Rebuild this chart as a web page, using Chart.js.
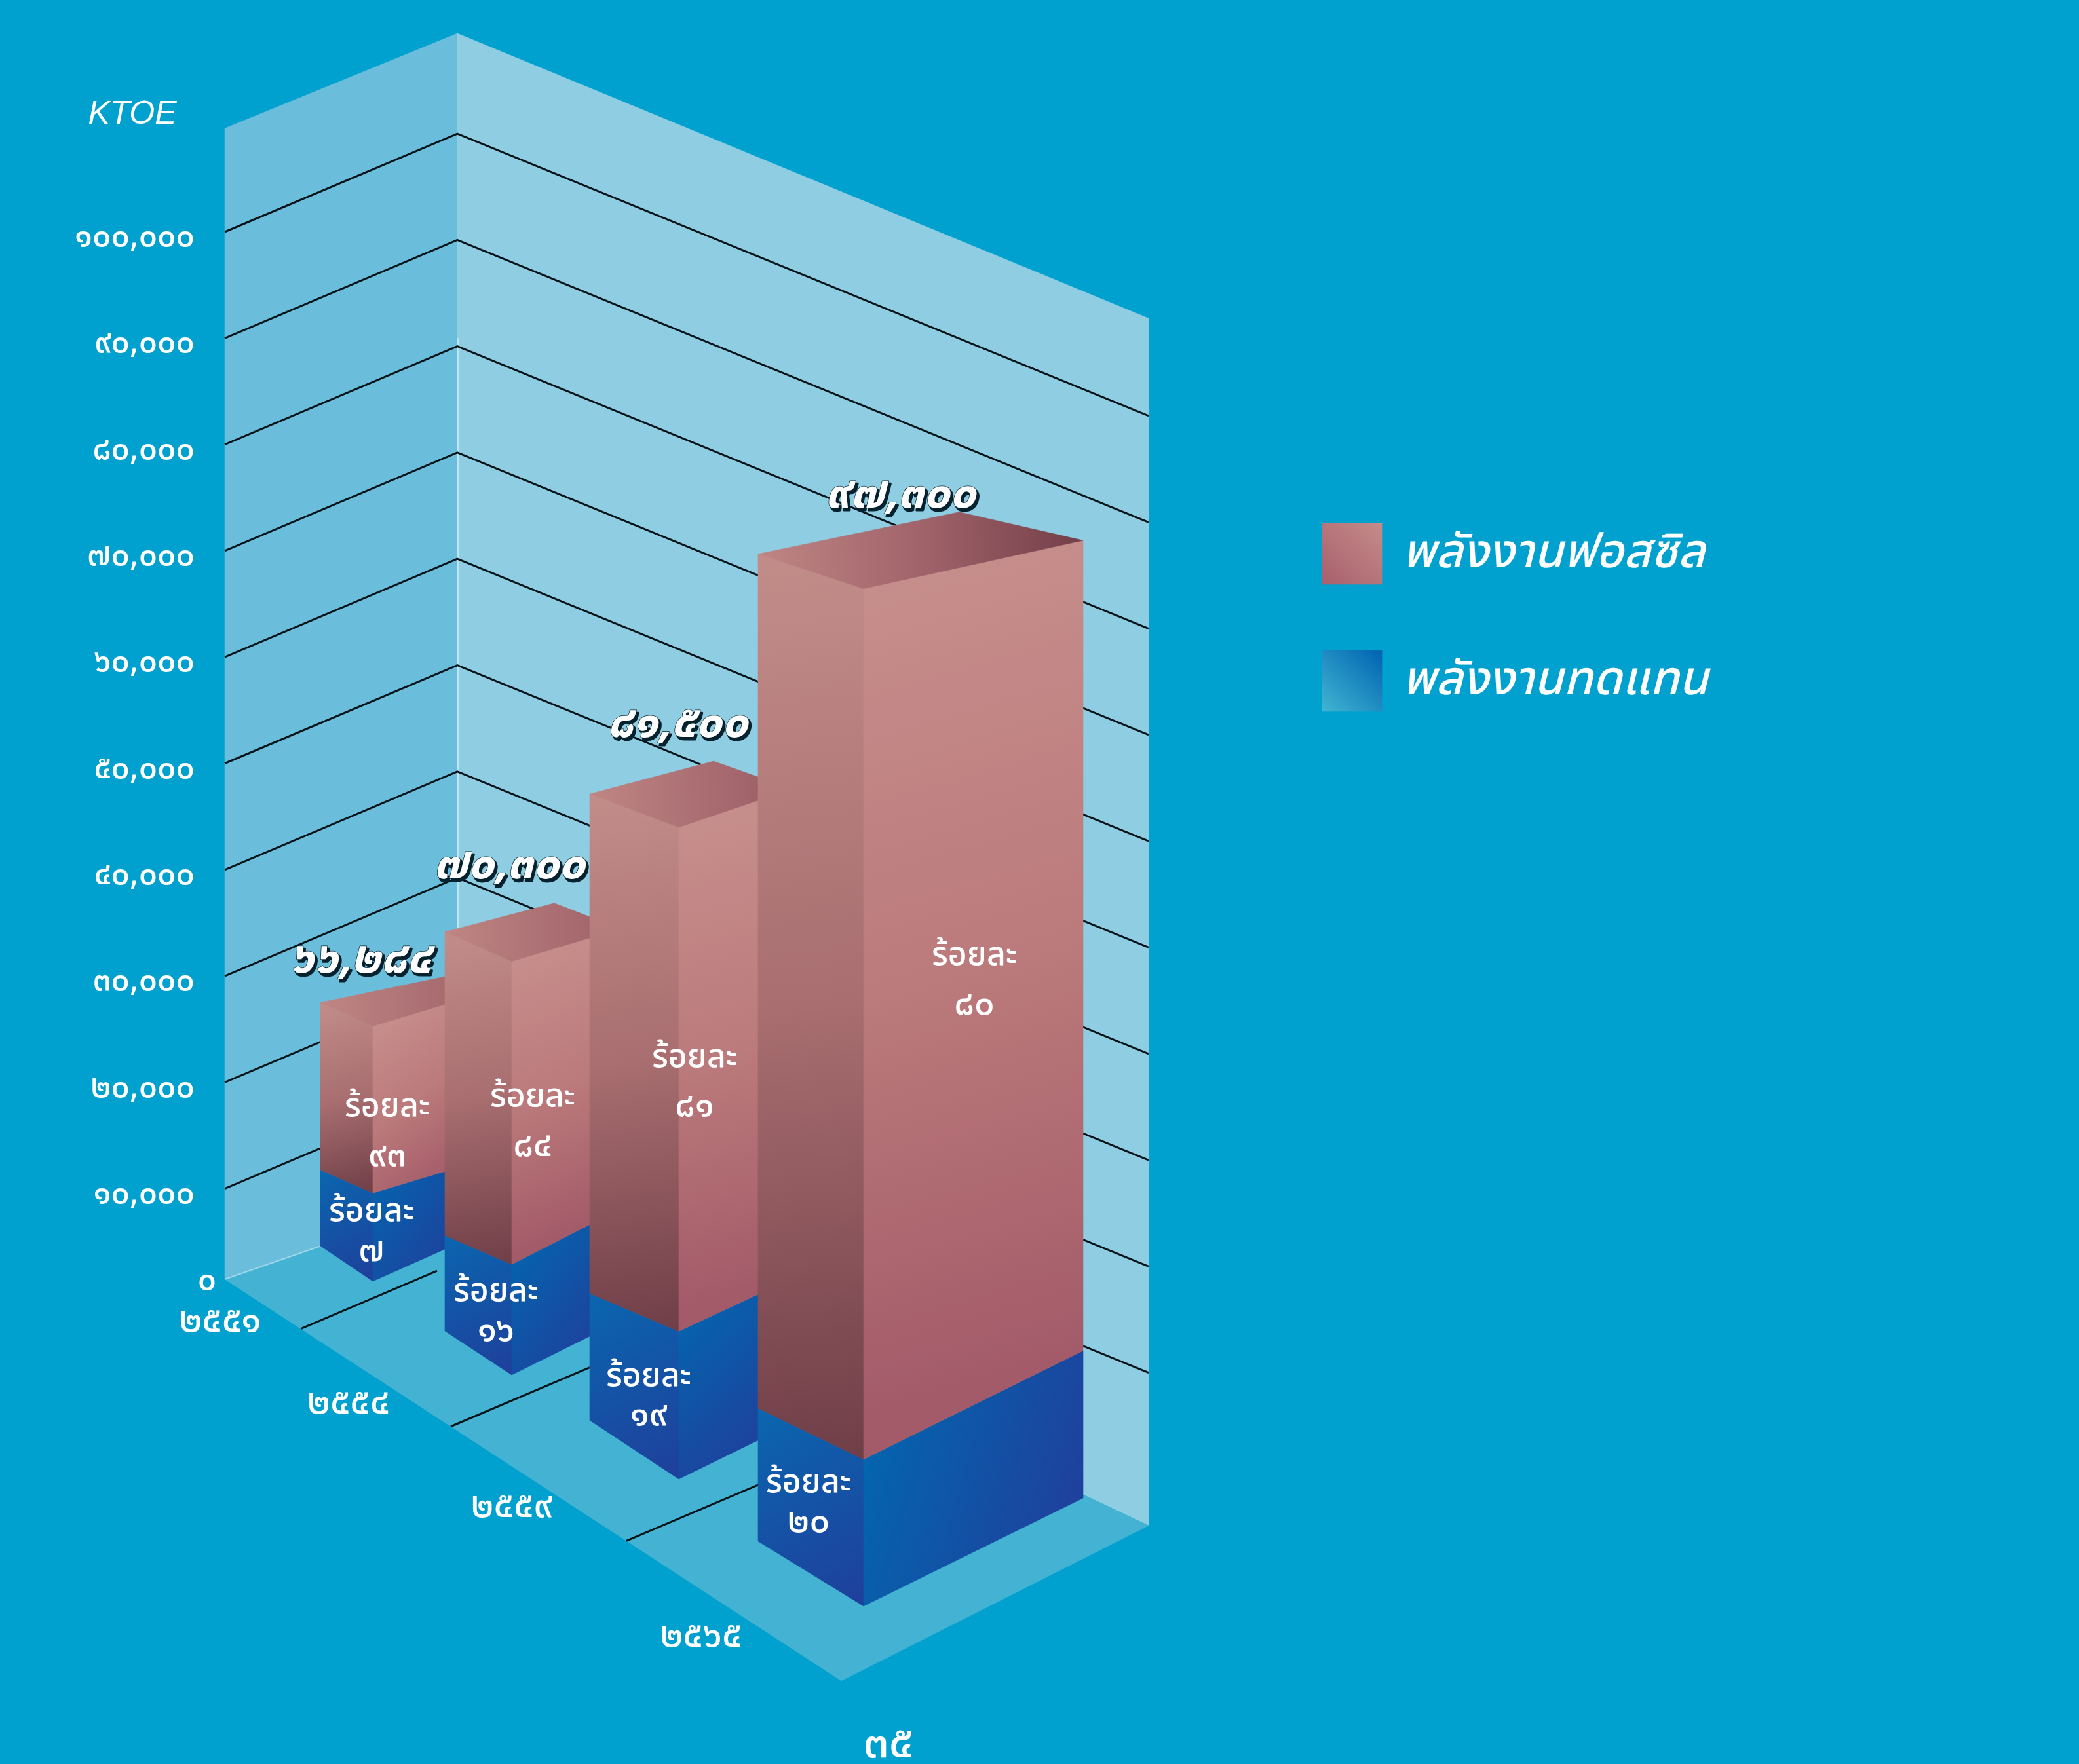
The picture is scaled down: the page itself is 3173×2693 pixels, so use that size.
<!DOCTYPE html>
<html lang="th">
<head>
<meta charset="utf-8">
<style>html,body{margin:0;padding:0;background:#00A0CF}canvas{display:block}</style>
<script src="https://cdn.jsdelivr.net/npm/chart.js@4"></script>
</head>
<body>
<canvas id="c" width="3173" height="2693"></canvas>
<script>
// ---- data ----
const years = ['๒๕๕๑', '๒๕๕๔', '๒๕๕๙', '๒๕๖๕'];
// Bar heights measured against the wall gridlines. The artwork's drawn heights
// do not follow its printed totals, so the printed totals are kept as labels.
const renewableValues = [8300, 10400, 13900, 13800];
const fossilValues = [15700, 28500, 47400, 81900];
const totalLabels = ['๖๖,๒๘๔', '๗๐,๓๐๐', '๘๑,๕๐๐', '๙๗,๓๐๐'];
const renewablePercent = ['๗', '๑๖', '๑๙', '๒๐'];
const fossilPercent = ['๙๓', '๘๔', '๘๑', '๘๐'];
const seriesNames = ['พลังงานทดแทน', 'พลังงานฟอสซิล'];
const percentWord = 'ร้อยละ';
const axisUnit = 'KTOE';
const pageNumber = '๓๕';

// ---- view / layout (separate from the data) ----
const THAI = '"Noto Sans Thai","Noto Sans","Open Sans","DejaVu Sans",sans-serif';
const view = {
  wallLeft: 343, wallCorner: 698, wallRight: 1753,
  riseLeft: 0.4225, fallRight: 0.4085,
  wallTopLeft: 196, wallTopCorner: 51, wallTopRight: 486,
  floorLeft: 1953, floorBack: 1830, floorRight: 2329, floorFrontX: 1284, floorFrontY: 2566
};
const shiftX = [101, 63, 68, 100];
const shiftY = [-21, 122, 281, 475];
const leftDx = [80, 102, 136, 161];
const rightDx = [150, 166, 173, 335];
const leftSlope = [[.675, .44, .45], [.657, .43, .44], [.66, .426, .375], [.615, .484, .33]];
const rightSlope = [[-.445, -.30, -.30], [-.496, -.51, -.30], [-.49, -.467, -.339], [-.4925, -.4955, -.22]];
const backOffset = [[240, -50], [167, -44], [189, -50], [307, -64]];
const totalOffset = [[-19, -96], [-4, -141], [-2, -152], [56, -138]];
const fossilTextOffset = [[22, -127], [32, -251], [24, -414], [169, -765]];
const renewTextOffset = [[-2, 33], [-24, 46], [-46, 73], [-84, 40]];
const yearOffset = [[-233, 66], [-249, 48], [-255, 47], [-248, 51]];
const floorTickRange = [[459, 667], [688, 900], [956, 1160]];

function thaiDigits(s) { return String(s).replace(/[0-9]/g, d => '๐๑๒๓๔๕๖๗๘๙'[+d]); }
function poly(ctx, pts, fill) {
  ctx.beginPath();
  pts.forEach((p, i) => i ? ctx.lineTo(p[0], p[1]) : ctx.moveTo(p[0], p[1]));
  ctx.closePath(); ctx.fillStyle = fill; ctx.fill();
  ctx.strokeStyle = fill; ctx.lineWidth = 0.6; ctx.stroke();
}
function grad(ctx, a, b, stops) {
  const g = ctx.createLinearGradient(a[0], a[1], b[0], b[1]);
  stops.forEach((c, i) => g.addColorStop(i / (stops.length - 1), c));
  return g;
}
function wallShear(x) {
  return x <= view.wallCorner ? -(x - view.wallLeft) * view.riseLeft
    : -(view.wallCorner - view.wallLeft) * view.riseLeft + (x - view.wallCorner) * view.fallRight;
}
function text(ctx, s, x, y, font, opts = {}) {
  ctx.save();
  ctx.font = font; ctx.textAlign = opts.align || 'center'; ctx.textBaseline = 'middle';
  if (opts.outline) {
    ctx.lineJoin = 'round'; ctx.strokeStyle = '#05222e'; ctx.fillStyle = '#05222e'; ctx.lineWidth = 3;
    ctx.strokeText(s, x + 3, y + 4); ctx.fillText(s, x + 3, y + 4);
    ctx.lineWidth = 1.5; ctx.strokeStyle = '#05222e'; ctx.strokeText(s, x, y);
  }
  ctx.fillStyle = '#ffffff'; ctx.fillText(s, x, y);
  ctx.restore();
}

const scene = {
  id: 'scene',
  beforeDatasetDraw() { return false; },
  beforeDatasetsDraw(chart) {
    const { ctx, scales: { y } } = chart, v = view;
    poly(ctx, [[v.wallLeft, v.wallTopLeft], [v.wallCorner, v.wallTopCorner], [v.wallCorner, v.floorBack], [v.wallLeft, v.floorLeft]], '#6BBEDB');
    poly(ctx, [[v.wallCorner, v.wallTopCorner], [v.wallRight, v.wallTopRight], [v.wallRight, v.floorRight], [v.wallCorner, v.floorBack]], '#8FCDE3');
    poly(ctx, [[v.wallLeft, v.floorLeft], [v.wallCorner, v.floorBack], [v.wallRight, v.floorRight], [v.floorFrontX, v.floorFrontY]], '#43B2D3');
    ctx.strokeStyle = 'rgba(255,255,255,.45)'; ctx.lineWidth = 2;
    ctx.beginPath(); ctx.moveTo(v.wallCorner + 1, y.getPixelForValue(90000)); ctx.lineTo(v.wallCorner + 1, y.getPixelForValue(20000));
    ctx.moveTo(v.wallLeft, v.floorLeft); ctx.lineTo(v.wallCorner, v.floorBack); ctx.stroke();
    ctx.strokeStyle = '#06141a'; ctx.lineWidth = 3;
    y.ticks.forEach(t => {
      if (!t.value) return;
      const p = y.getPixelForValue(t.value);
      ctx.beginPath();
      ctx.moveTo(v.wallLeft, p);
      ctx.lineTo(v.wallCorner, p + wallShear(v.wallCorner));
      ctx.lineTo(v.wallRight, p + wallShear(v.wallRight));
      ctx.stroke();
    });
  },
  afterDatasetsDraw(chart) {
    const { ctx } = chart;
    const renew = chart.getDatasetMeta(0).data, fossil = chart.getDatasetMeta(1).data;
    years.forEach((yr, i) => {
      const fx = renew[i].x + shiftX[i], dy = shiftY[i];
      const levels = [renew[i].base + dy, renew[i].y + dy, fossil[i].y + dy];
      const F = levels.map(l => [fx, l]);
      const L = levels.map((l, k) => [fx - leftDx[i], l - leftSlope[i][k] * leftDx[i]]);
      const R = levels.map((l, k) => [fx + rightDx[i], l + rightSlope[i][k] * rightDx[i]]);
      const back = [L[2][0] + backOffset[i][0], L[2][1] + backOffset[i][1]];
      // side faces
      poly(ctx, [L[1], F[1], F[0], L[0]], grad(ctx, L[1], F[0], ['#0A66AF', '#1F3F9B']));
      poly(ctx, [F[1], R[1], R[0], F[0]], grad(ctx, [F[1][0], F[1][1] - 40], R[0], ['#0366AF', '#1F409C']));
      poly(ctx, [L[2], F[2], F[1], L[1]], grad(ctx, L[2], [F[1][0], F[1][1]], ['#C28D89', '#A86E70', '#6F3E47']));
      poly(ctx, [F[2], R[2], R[1], F[1]], grad(ctx, [F[2][0], F[2][1]], R[1], ['#C68E8B', '#BB7A7B', '#A35B69']));
      // the top shades over a fixed run, so short bars do not reach the darkest tone
      const run = Math.hypot(R[2][0] - L[2][0], R[2][1] - L[2][1]);
      const topEnd = [L[2][0] + (R[2][0] - L[2][0]) * 500 / run, L[2][1] + (R[2][1] - L[2][1]) * 500 / run];
      poly(ctx, [L[2], back, R[2], F[2]], grad(ctx, L[2], topEnd, ['#BF8684', '#A0636A', '#733E48']));
      // floor division in front of this bar
      if (floorTickRange[i]) {
        const [x0, x1] = floorTickRange[i];
        const y0 = view.floorLeft + (x0 - view.wallLeft) * (view.floorFrontY - view.floorLeft) / (view.floorFrontX - view.wallLeft);
        ctx.strokeStyle = '#06141a'; ctx.lineWidth = 3;
        ctx.beginPath(); ctx.moveTo(x0, y0); ctx.lineTo(x1, y0 - (x1 - x0) * 0.425); ctx.stroke();
      }
    });
    // texts above all faces
    const pf = '500 50px ' + THAI, nf = '500 54px ' + THAI;
    years.forEach((yr, i) => {
      const fx = renew[i].x + shiftX[i], dy = shiftY[i];
      const bY = renew[i].y + dy, tY = fossil[i].y + dy, gY = renew[i].base + dy;
      text(ctx, percentWord, fx + fossilTextOffset[i][0], bY + fossilTextOffset[i][1], pf);
      text(ctx, fossilPercent[i], fx + fossilTextOffset[i][0], bY + fossilTextOffset[i][1] + 75, nf);
      text(ctx, percentWord, fx + renewTextOffset[i][0], bY + renewTextOffset[i][1], pf);
      text(ctx, renewablePercent[i], fx + renewTextOffset[i][0], bY + renewTextOffset[i][1] + 60, nf);
      text(ctx, totalLabels[i], fx + totalOffset[i][0], tY + totalOffset[i][1], 'italic 700 70px ' + THAI, { outline: true });
      text(ctx, yr, fx + yearOffset[i][0], gY + yearOffset[i][1], '500 56px ' + THAI);
    });
    // axis extras
    const y = chart.scales.y;
    text(ctx, thaiDigits(0), 316, y.getPixelForValue(0) - 18, '500 50px ' + THAI);
    text(ctx, axisUnit, 202, 175, 'italic 400 50px "Liberation Sans",Arial,sans-serif');
    text(ctx, pageNumber, 1356, 2669, '500 70px ' + THAI);
    // legend from the dataset names
    const swatches = [[seriesNames[1], 799, ['#C48C8A', '#A85F6C']], [seriesNames[0], 993, ['#0063B1', '#40B5D2']]];
    swatches.forEach(([name, top, cols]) => {
      poly(ctx, [[2018, top], [2109, top], [2109, top + 93], [2018, top + 93]], grad(ctx, [2109, top], [2018, top + 93], cols));
      text(ctx, name, 2140, top + 52, 'italic 500 72px ' + THAI, { align: 'left' });
    });
  }
};

new Chart(document.getElementById('c'), {
  type: 'bar',
  data: {
    labels: years,
    datasets: [
      { label: seriesNames[0], data: renewableValues, backgroundColor: '#0366AF', stack: 's' },
      { label: seriesNames[1], data: fossilValues, backgroundColor: '#BB7A7B', stack: 's' }
    ]
  },
  options: {
    responsive: false, animation: false, devicePixelRatio: 1,
    layout: { padding: { left: 0, top: 354, right: 1830, bottom: 716 } },
    plugins: { legend: { display: false }, tooltip: { enabled: false } },
    scales: {
      x: { stacked: true, display: false },
      y: {
        stacked: true, min: 0, max: 100000,
        afterFit(s) { s.width = 343; },
        grid: { display: false }, border: { display: false },
        ticks: {
          stepSize: 10000, color: '#fff', padding: 38, labelOffset: 12,
          font: { family: THAI, size: 50, weight: '500' },
          callback: v => v === 0 ? '' : thaiDigits(v.toLocaleString('en-US'))
        }
      }
    }
  },
  plugins: [scene]
});
</script>
</body>
</html>
